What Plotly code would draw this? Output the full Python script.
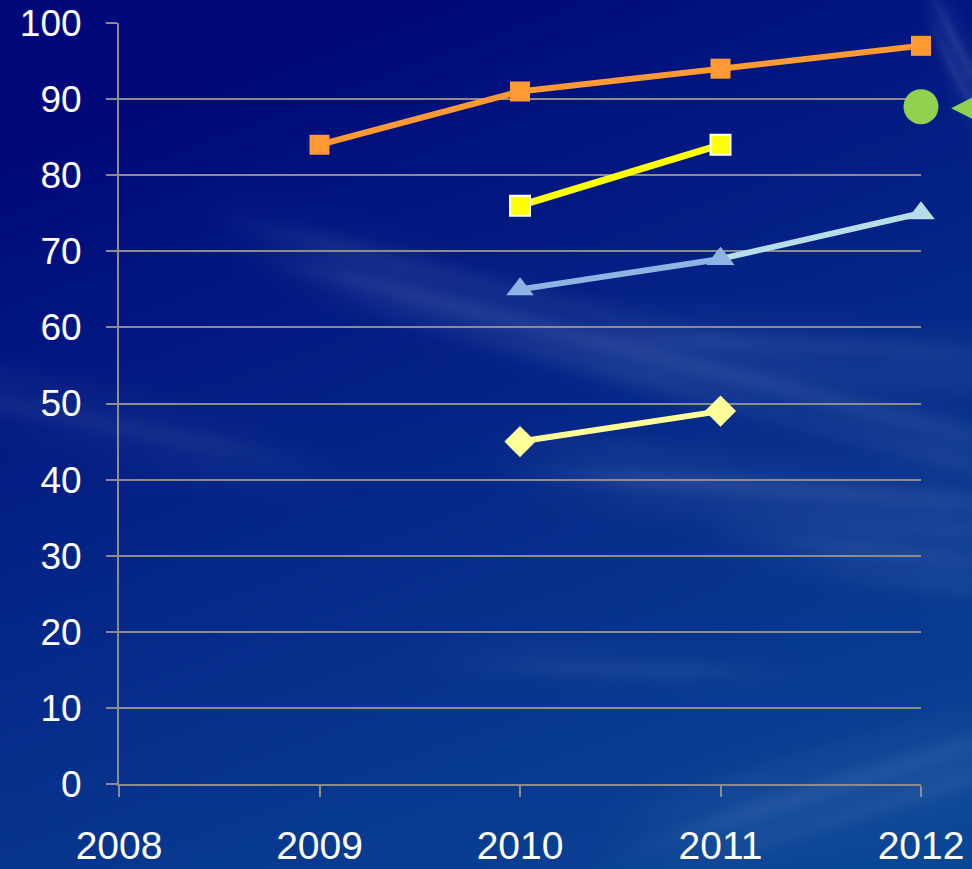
import base64, struct, zlib
import numpy as np
import plotly.graph_objects as go

# ---------------- data ----------------
years = [2008, 2009, 2010, 2011, 2012]
tick_labels = ["2008", "2009", "2010", "2011", "2012"]
y_ticks = [0, 10, 20, 30, 40, 50, 60, 70, 80, 90, 100]

orange_x = [2009, 2010, 2011, 2012]
orange_y = [84, 91, 94, 97]

yellow_sq_x = [2010, 2011]
yellow_sq_y = [76, 84]

blue_tri_x = [2010, 2011]
blue_tri_y = [65, 69]

cyan_tri_x = [2011, 2012]
cyan_tri_y = [69, 75]

diamond_x = [2010, 2011]
diamond_y = [45, 49]

green_x = [2012]
green_y = [89]

# ---------------- background sky texture ----------------
W, H = 972, 869
S = 3
w, h = W // S + 1, H // S + 1
yy, xx = np.mgrid[0:h, 0:w].astype(float)
X = xx * S
Y = yy * S
xn, yn = X / W, Y / H
t = np.clip(0.85 * yn + 0.35 * xn - 0.15, 0, 1) ** 0.9
dark = np.array([0, 8, 122], float)
light = np.array([10, 70, 150], float)
img = dark[None, None, :] * (1 - t[..., None]) + light[None, None, :] * t[..., None]

def band(y0, x0, slope, width, amp, xmin, xmax, fade=150):
    d = Y - (y0 + slope * (X - x0))
    g = np.exp(-(d / width) ** 2)
    m = np.clip((X - xmin) / fade, 0, 1) * np.clip((xmax - X) / fade, 0, 1)
    wav = 0.8 + 0.2 * np.sin(d / 6.0 + X / 90.0)
    return amp * g * m * wav

cl = np.zeros((h, w))
cl += band(225, 230, 0.30, 30, 0.16, 200, 1100)
cl += band(270, 300, 0.30, 22, 0.10, 250, 800)
cl += band(330, 620, 0.10, 28, 0.14, 560, 1100)
cl += band(470, 600, 0.12, 30, 0.18, 480, 1100)
cl += band(540, 760, 0.15, 25, 0.16, 700, 1100)
cl += band(395, 0, 0.25, 30, 0.10, -200, 360)
cl += band(655, 450, 0.06, 18, 0.10, 400, 820)
cl += band(840, 650, -0.25, 40, 0.18, 600, 1100)
cl += band(60, 960, 2.0, 35, 0.22, 920, 1200, fade=30)
cl = np.clip(cl, 0, 0.5)
cloud = np.array([150, 175, 215], float)
img = img * (1 - cl[..., None]) + cloud[None, None, :] * cl[..., None]
img = np.clip(img, 0, 255).astype(np.uint8)

def png_bytes(a):
    hh, ww, _ = a.shape
    raw = b"".join(b"\x00" + a[i].tobytes() for i in range(hh))
    def chunk(tag, data):
        c = struct.pack(">I", len(data)) + tag + data
        return c + struct.pack(">I", zlib.crc32(tag + data) & 0xffffffff)
    return (b"\x89PNG\r\n\x1a\n" + chunk(b"IHDR", struct.pack(">IIBBBBB", ww, hh, 8, 2, 0, 0, 0))
            + chunk(b"IDAT", zlib.compress(raw, 9)) + chunk(b"IEND", b""))

src = "data:image/png;base64," + base64.b64encode(png_bytes(img)).decode()

# ---------------- figure ----------------
L, R, T, B = 119, 51, 23, 85
pw, ph = W - L - R, H - T - B

fig = go.Figure()
fig.add_trace(go.Scatter(x=orange_x, y=orange_y, mode="lines+markers",
                         line=dict(color="#ff9933", width=6),
                         marker=dict(symbol="square", size=20, color="#ff9933"),
                         cliponaxis=False))
fig.add_trace(go.Scatter(x=yellow_sq_x, y=yellow_sq_y, mode="lines+markers",
                         line=dict(color="#ffff00", width=7),
                         marker=dict(symbol="square", size=20, color="#ffff00",
                                     line=dict(color="white", width=2)),
                         cliponaxis=False))
fig.add_trace(go.Scatter(x=cyan_tri_x, y=cyan_tri_y, mode="lines+markers",
                         line=dict(color="#b7dee8", width=6),
                         marker=dict(symbol="triangle-up", size=24, color="#b7dee8"),
                         cliponaxis=False))
fig.add_trace(go.Scatter(x=blue_tri_x, y=blue_tri_y, mode="lines+markers",
                         line=dict(color="#8eb4e3", width=6),
                         marker=dict(symbol="triangle-up", size=24, color="#8eb4e3"),
                         cliponaxis=False))
fig.add_trace(go.Scatter(x=diamond_x, y=diamond_y, mode="lines+markers",
                         line=dict(color="#ffff99", width=6),
                         marker=dict(symbol="diamond", size=24, color="#ffff99"),
                         cliponaxis=False))
fig.add_trace(go.Scatter(x=green_x, y=green_y, mode="markers",
                         marker=dict(symbol="circle", size=35, color="#92d050"),
                         cliponaxis=False))

# green pointer arrowhead to the right of the green point (partly off the page)
fig.add_annotation(x=green_x[0], y=green_y[0], xref="x", yref="y", text="◀",
                   showarrow=False, xanchor="left", yanchor="middle", xshift=28, yshift=2,
                   font=dict(family="DejaVu Sans", size=38, color="#92d050"))

fig.add_layout_image(dict(source=src, xref="paper", yref="paper",
                          x=-L / pw, y=1 + T / ph, sizex=W / pw, sizey=H / ph,
                          xanchor="left", yanchor="top", sizing="stretch", layer="below"))

fig.update_layout(
    width=W, height=H,
    margin=dict(l=L, r=R, t=T, b=B, pad=0, autoexpand=False),
    showlegend=False,
    paper_bgcolor="#02157f",
    plot_bgcolor="rgba(0,0,0,0)",
    font=dict(family="Liberation Sans, Arial, sans-serif", color="white", size=38),
    xaxis=dict(range=[2008, 2012], tickvals=years, ticktext=tick_labels, automargin=False,
               showgrid=False, zeroline=False, showline=True, linecolor="#8c8c8c",
               linewidth=2, ticks="outside", ticklen=11, tickwidth=2, tickcolor="#8c8c8c",
               tickfont=dict(size=39, color="white"), ticklabelstandoff=15),
    yaxis=dict(range=[0, 100], tickvals=y_ticks, automargin=False,
               showgrid=True, gridcolor="#8c8c8c", gridwidth=2, zeroline=False,
               showline=True, linecolor="#8c8c8c", linewidth=2,
               ticks="outside", ticklen=11, tickwidth=2, tickcolor="#8c8c8c",
               tickfont=dict(size=37, color="white"), ticklabelstandoff=17),
)

fig.write_html("out.html")
